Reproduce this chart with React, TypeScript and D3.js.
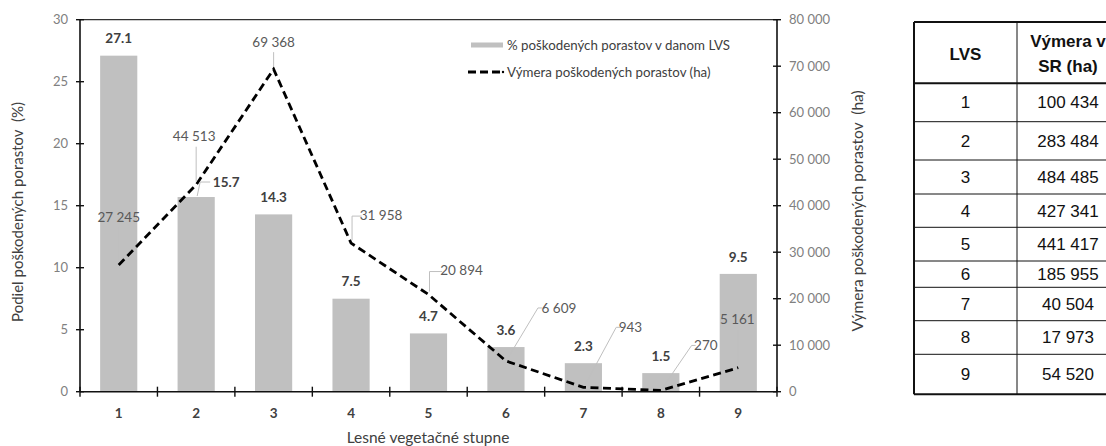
import React from 'react';
import * as d3 from 'd3';

const categories = ['1', '2', '3', '4', '5', '6', '7', '8', '9'];
const pctDamaged = [27.1, 15.7, 14.3, 7.5, 4.7, 3.6, 2.3, 1.5, 9.5];
const areaDamaged = [27245, 44513, 69368, 31958, 20894, 6609, 943, 270, 5161];
const leftTicks = [0, 5, 10, 15, 20, 25, 30];
const rightTicks = [0, 10000, 20000, 30000, 40000, 50000, 60000, 70000, 80000];
const tableLVS = ['1', '2', '3', '4', '5', '6', '7', '8', '9'];
const tableArea = [100434, 283484, 484485, 427341, 441417, 185955, 40504, 17973, 54520];

const legendBar = '% poškodených porastov v danom LVS';
const legendLine = 'Výmera poškodených porastov (ha)';
const leftTitle = 'Podiel poškodených porastov  (%)';
const rightTitle = 'Výmera poškodených porastov  (ha)';
const xTitle = 'Lesné vegetačné stupne';

// label placement (offsets from the point) – layout only
const lineLabelPos = [
  { dx: 0, dy: -48, lead: 'v' },
  { dx: -2, dy: -48, lead: 'v' },
  { dx: 0, dy: -27, lead: 'v' },
  { dx: 30, dy: -28, lead: 'b' },
  { dx: 33, dy: -24, lead: 'b' },
  { dx: 53, dy: -53, lead: 'd' },
  { dx: 47, dy: -60, lead: 'd' },
  { dx: 45, dy: -45, lead: 'd' },
  { dx: -1, dy: -48, lead: 'v' },
];

const fmt = (v: number) => d3.format(',')(v).replace(/,/g, ' ');

const W = 1106, H = 446;
const plot = { left: 80, right: 777, top: 19.7, bottom: 391.7 };
const chartFont = 'Lato, "Open Sans", sans-serif';
const tableFont = '"Liberation Sans", Arial, sans-serif';

export default function App() {
  const x = d3.scaleBand<string>().domain(categories).range([plot.left, plot.right]).paddingInner(0).paddingOuter(0);
  const yL = d3.scaleLinear().domain([0, 30]).range([plot.bottom, plot.top]);
  const yR = d3.scaleLinear().domain([0, 80000]).range([plot.bottom, plot.top]);
  const bw = x.bandwidth();
  const barW = bw * 0.48;
  const cx = (c: string) => (x(c) as number) + bw / 2;

  const line = d3.line<number>().x((_, i) => cx(categories[i])).y((v) => yR(v));

  // table geometry
  const tX0 = 914, tX1 = 1017, tX2 = 1122;
  const rowEdges = [22, 83.3, 121.7, 160, 194, 227.3, 261, 287.3, 320.7, 354.3, 394.3];

  return (
    <svg width={W} height={H} style={{ position: 'absolute', left: 0, top: 0, background: '#fff' }}>
      <rect x={0} y={0} width={W} height={H} fill="#fff" />
      {/* bars */}
      {pctDamaged.map((v, i) => (
        <rect key={'b' + i} x={cx(categories[i]) - barW / 2} y={yL(v)} width={barW} height={yL(0) - yL(v)} fill="#c0c0c0" />
      ))}
      {/* top border */}
      <line x1={plot.left} x2={plot.right} y1={plot.top} y2={plot.top} stroke="#333" strokeWidth={1.2} />
      {/* left axis */}
      <line x1={plot.left} x2={plot.left} y1={plot.top} y2={plot.bottom} stroke="#111" strokeWidth={1.6} />
      {leftTicks.map((t) => (
        <g key={'lt' + t}>
          <line x1={plot.left - 4} x2={plot.left + 4} y1={yL(t)} y2={yL(t)} stroke="#111" strokeWidth={1.4} />
          <text x={plot.left - 12} y={yL(t)} dy="0.35em" textAnchor="end" fontFamily={chartFont} fontSize={13} fill="#808080">{t}</text>
        </g>
      ))}
      {/* right axis */}
      <line x1={plot.right} x2={plot.right} y1={plot.top} y2={plot.bottom} stroke="#111" strokeWidth={1.6} />
      {rightTicks.map((t) => (
        <g key={'rt' + t}>
          <line x1={plot.right - 4} x2={plot.right + 4} y1={yR(t)} y2={yR(t)} stroke="#111" strokeWidth={1.4} />
          <text x={plot.right + 12} y={yR(t)} dy="0.35em" textAnchor="start" fontFamily={chartFont} fontSize={13} fill="#808080">{fmt(t)}</text>
        </g>
      ))}
      {/* bottom axis */}
      <line x1={plot.left} x2={plot.right} y1={plot.bottom} y2={plot.bottom} stroke="#111" strokeWidth={1.6} />
      {[...categories.map((c) => x(c) as number), plot.right].map((px, i) => (
        <line key={'bt' + i} x1={px} x2={px} y1={plot.bottom - 5} y2={plot.bottom + 5} stroke="#111" strokeWidth={1.4} />
      ))}
      {categories.map((c) => (
        <text key={'cl' + c} x={cx(c)} y={413} dy="0.35em" textAnchor="middle" fontFamily={chartFont} fontSize={13.5} fontWeight="bold" fill="#404040">{c}</text>
      ))}
      {/* axis titles */}
      <text x={428} y={438} dy="0.35em" textAnchor="middle" fontFamily={chartFont} fontSize={15.5} fill="#404040">{xTitle}</text>
      <text transform="translate(18,212) rotate(-90)" dy="0.35em" textAnchor="middle" fontFamily={chartFont} fontSize={15} fill="#404040" style={{ whiteSpace: 'pre' }}>{leftTitle}</text>
      <text transform="translate(858,211) rotate(-90)" dy="0.35em" textAnchor="middle" fontFamily={chartFont} fontSize={15.5} fill="#404040" style={{ whiteSpace: 'pre' }}>{rightTitle}</text>

      {/* dashed line */}
      <path d={line(areaDamaged) || ''} fill="none" stroke="#000" strokeWidth={2.8} strokeDasharray="8,4.5" />

      {/* bar labels */}
      {pctDamaged.map((v, i) => {
        const px = cx(categories[i]);
        const py = yL(v);
        if (i === 1) {
          return (
            <g key={'bl' + i}>
              <polyline points={`${px + 14},${py - 15} ${px + 4},${py - 15} ${px + 1},${py - 1}`} fill="none" stroke="#bfbfbf" strokeWidth={1} />
              <text x={px + 30} y={py - 15} dy="0.35em" textAnchor="middle" fontFamily={chartFont} fontSize={13.5} fontWeight="bold" fill="#404040">{v.toFixed(1)}</text>
            </g>
          );
        }
        return (
          <text key={'bl' + i} x={px} y={py - 17} dy="0.35em" textAnchor="middle" fontFamily={chartFont} fontSize={13.5} fontWeight="bold" fill="#404040">{v.toFixed(1)}</text>
        );
      })}

      {/* line labels */}
      {areaDamaged.map((v, i) => {
        const px = cx(categories[i]);
        const py = yR(v);
        const p = lineLabelPos[i];
        const lx = px + p.dx;
        const ly = py + p.dy;
        const label = fmt(v);
        let lead: string;
        if (p.lead === 'v') {
          lead = `${px},${ly + 10} ${px},${py - 3}`;
        } else if (p.lead === 'b') {
          const tx = lx - label.length * 3.4 - 4;
          lead = `${tx + 5},${ly + 1} ${px + 1},${ly + 1} ${px + 1},${py - 3}`;
        } else {
          const tx = lx - label.length * 3.4 - 4;
          lead = `${tx + 4},${ly} ${tx},${ly} ${px + 2},${py - 3}`;
        }
        return (
          <g key={'ll' + i}>
            <polyline points={lead} fill="none" stroke="#bfbfbf" strokeWidth={1} />
            <text x={lx} y={ly} dy="0.35em" textAnchor="middle" fontFamily={chartFont} fontSize={13.5} fill="#595959">{label}</text>
          </g>
        );
      })}

      {/* legend */}
      <rect x={471} y={42.5} width={32} height={5} fill="#c0c0c0" />
      <text x={507} y={45} dy="0.35em" fontFamily={chartFont} fontSize={13.3} fill="#404040">{legendBar}</text>
      <line x1={468} x2={500} y1={72} y2={72} stroke="#000" strokeWidth={2.8} strokeDasharray="8,4" />
      <circle cx={503} cy={72} r={1.2} fill="#000" />
      <text x={507} y={72} dy="0.35em" fontFamily={chartFont} fontSize={13.3} fill="#404040">{legendLine}</text>

      {/* table */}
      <g>
        {rowEdges.map((ry, i) => (
          <line key={'hr' + i} x1={tX0} x2={tX2} y1={ry} y2={ry} stroke="#111" strokeWidth={i === 0 || i === 1 || i === rowEdges.length - 1 ? 2 : 1} />
        ))}
        <line x1={tX0} x2={tX0} y1={rowEdges[0]} y2={rowEdges[rowEdges.length - 1]} stroke="#111" strokeWidth={2} />
        <line x1={tX1} x2={tX1} y1={rowEdges[0]} y2={rowEdges[rowEdges.length - 1]} stroke="#111" strokeWidth={1} />
        <text x={(tX0 + tX1) / 2} y={54} dy="0.35em" textAnchor="middle" fontFamily={tableFont} fontSize={17} fontWeight="bold" fill="#111">LVS</text>
        <text x={1068} y={41} dy="0.35em" textAnchor="middle" fontFamily={tableFont} fontSize={17} fontWeight="bold" fill="#111">Výmera v</text>
        <text x={1068} y={66} dy="0.35em" textAnchor="middle" fontFamily={tableFont} fontSize={17} fontWeight="bold" fill="#111">SR (ha)</text>
        {tableLVS.map((c, i) => {
          const cy = (rowEdges[i + 1] + rowEdges[i + 2]) / 2;
          return (
            <g key={'tr' + i}>
              <text x={(tX0 + tX1) / 2} y={cy} dy="0.35em" textAnchor="middle" fontFamily={tableFont} fontSize={17} fill="#111">{c}</text>
              <text x={1068} y={cy} dy="0.35em" textAnchor="middle" fontFamily={tableFont} fontSize={17} fill="#111">{fmt(tableArea[i])}</text>
            </g>
          );
        })}
      </g>
    </svg>
  );
}
